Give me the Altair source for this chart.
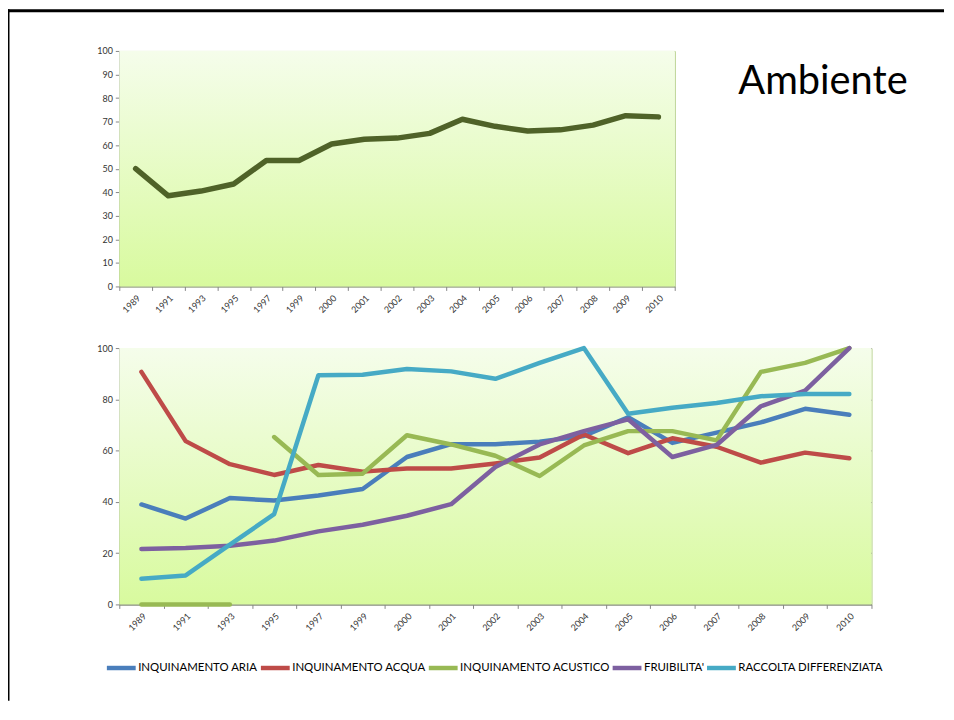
import altair as alt
import pandas as pd

# ---------------- data ----------------
years = ["1989", "1991", "1993", "1995", "1997", "1999", "2000", "2001", "2002",
         "2003", "2004", "2005", "2006", "2007", "2008", "2009", "2010"]

ambiente = [50, 38.5, 40.5, 43.5, 53.5, 53.5, 60.5, 62.5, 63, 65, 71, 68, 66,
            66.5, 68.5, 72.5, 72]

series_names = ["INQUINAMENTO ARIA", "INQUINAMENTO ACQUA", "INQUINAMENTO ACUSTICO",
                "FRUIBILITA'", "RACCOLTA DIFFERENZIATA"]
aria = [39, 33.5, 41.5, 40.5, 42.5, 45, 57.5, 62.5, 62.5, 63.5, 65.7, 73, 63,
        67, 71, 76.3, 74]
acqua = [90.7, 63.7, 54.7, 50.5, 54.4, 51.8, 53, 53, 55, 57.3, 66.3, 59, 64.8,
         61.5, 55.3, 59.2, 57]
acustico = [0, 0, 0, 65.3, 50.5, 51, 66, 62.4, 58, 50.1, 62, 67.6, 67.6, 64,
            90.7, 94.2, 100]
fruibilita = [21.6, 22, 22.9, 24.9, 28.5, 31.1, 34.6, 39.1, 53.6, 62.4, 67.6,
              72.2, 57.5, 62.2, 77.3, 83.4, 100]
raccolta = [10, 11.3, 23.3, 35.2, 89.4, 89.6, 91.8, 90.9, 88, 94.2, 100, 74.4,
            76.7, 78.6, 81.2, 82.1, 82.1]
# line segments (the noise series is broken between 1993 and 1995)
seg_aria = [0] * 17
seg_acqua = [0] * 17
seg_acustico = [0, 0, 0] + [1] * 14
seg_fruibilita = [0] * 17
seg_raccolta = [0] * 17

series_colors = ["#4A7EBB", "#BE4B48", "#98B954", "#7D60A0", "#46AAC5"]
top_color = "#4F6228"
title_text = "Ambiente"

# ---------------- tables ----------------
top_df = pd.DataFrame({"year": years, "value": ambiente})
rows = []
for name, vals, segs in zip(series_names,
                            [aria, acqua, acustico, fruibilita, raccolta],
                            [seg_aria, seg_acqua, seg_acustico, seg_fruibilita, seg_raccolta]):
    for yv, v, s in zip(years, vals, segs):
        rows.append({"year": yv, "series": name, "value": v, "seg": s})
bottom_df = pd.DataFrame(rows)
one = pd.DataFrame({"k": [0]})

FONT = "Lato"
W1, H1 = 559, 237
W2, H2 = 757, 258

gradient = alt.LinearGradient(
    gradient="linear", x1=0, x2=0, y1=0, y2=1,
    stops=[alt.GradientStop(offset=0, color="#F5FDEB"),
           alt.GradientStop(offset=1, color="#D8FA9E")])


def x_enc(step_years):
    return alt.X("year:N", sort=step_years,
                 scale=alt.Scale(type="band", domain=step_years, paddingInner=0, paddingOuter=0),
                 bandPosition=0.5,
                 axis=alt.Axis(title=None, labelAngle=-45, tickBand="extent",
                               labelFont=FONT, labelFontSize=9, labelColor="#333333",
                               domainColor="#868686", tickColor="#868686", tickSize=4,
                               labelPadding=3))


def y_axis(step, grid):
    return alt.Axis(title=None, values=list(range(0, 101, step)), grid=grid,
                    gridColor="#878787", gridWidth=1,
                    labelFont=FONT, labelFontSize=9, labelColor="#333333",
                    domainColor="#868686", tickColor="#868686", tickSize=4,
                    labelPadding=3)


def bg(w, h):
    return alt.Chart(one).mark_rect(color=gradient).encode(
        x=alt.value(0), x2=alt.value(w), y=alt.value(0), y2=alt.value(h))


# ---------------- top chart ----------------
top_line = alt.Chart(top_df).mark_line(
    color=top_color, strokeWidth=5.5, strokeCap="round", strokeJoin="round"
).encode(
    x=x_enc(years),
    y=alt.Y("value:Q", scale=alt.Scale(domain=[0, 100], nice=False), axis=y_axis(10, False))
)

title_mark = alt.Chart(one).mark_text(
    text=title_text, font=FONT, fontSize=40, align="left", baseline="alphabetic",
    color="black"
).encode(x=alt.value(623), y=alt.value(43))

frame_left = alt.Chart(one).mark_rule(color="black", strokeWidth=3).encode(
    x=alt.value(-112), y=alt.value(-42), y2=alt.value(654))
frame_top = alt.Chart(one).mark_rule(color="black", strokeWidth=3).encode(
    x=alt.value(-113.5), x2=alt.value(830), y=alt.value(-40.5))

top_chart = alt.layer(bg(W1, H1), top_line, title_mark, frame_left, frame_top).properties(
    width=W1, height=H1)

# ---------------- bottom chart ----------------
lines = alt.Chart(bottom_df).mark_line(
    strokeWidth=4.5, strokeCap="round", strokeJoin="round"
).encode(
    x=x_enc(years),
    y=alt.Y("value:Q", scale=alt.Scale(domain=[0, 100], nice=False), axis=y_axis(20, True)),
    color=alt.Color("series:N", sort=series_names,
                    scale=alt.Scale(domain=series_names, range=series_colors),
                    legend=alt.Legend(title=None, orient="none", legendX=-15, legendY=604,
                                      direction="horizontal", columns=5,
                                      symbolType="stroke", symbolSize=841,
                                      symbolStrokeWidth=4.5, labelFont=FONT,
                                      labelFontSize=11.5, labelColor="#000000",
                                      columnPadding=-12, labelOffset=0)),
    detail="seg:N",
)

bottom_chart = alt.layer(bg(W2, H2), lines).properties(width=W2, height=H2)

chart = alt.vconcat(top_chart, bottom_chart, spacing=62, bounds="flush").properties(
    padding={"left": -4, "top": -3, "right": 0, "bottom": 0}, background="white"
).configure_view(stroke="#A9C878", strokeWidth=1)

chart.save("out.html", embed_options={"renderer": "svg", "actions": False})
